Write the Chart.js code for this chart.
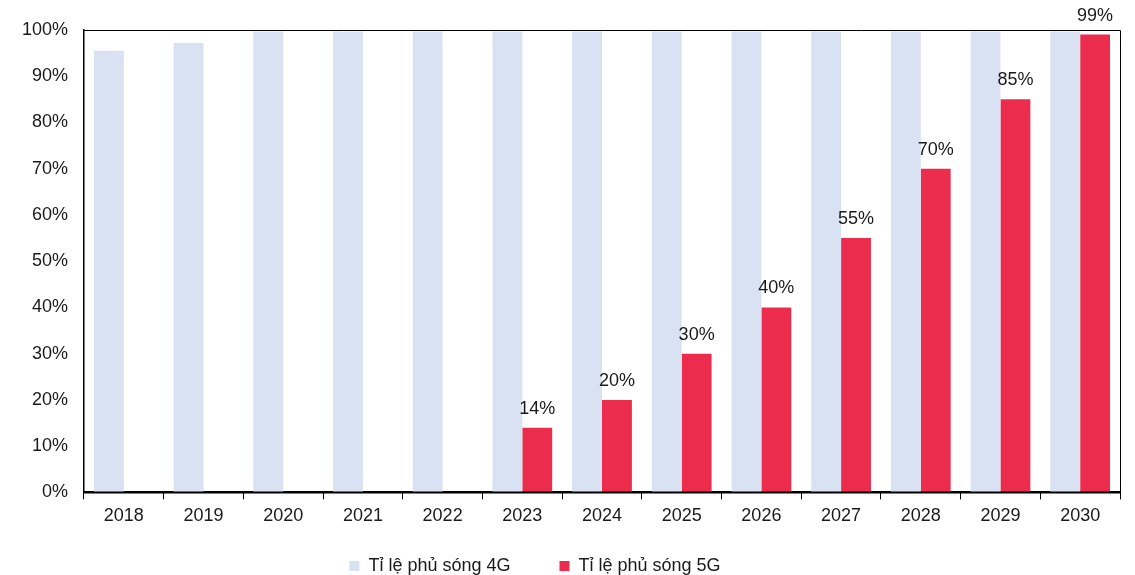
<!DOCTYPE html>
<html>
<head>
<meta charset="utf-8">
<script src="https://cdn.jsdelivr.net/npm/chart.js@4"></script>
<style>
  html, body { margin: 0; padding: 0; background: #fff; overflow: hidden; }
</style>
</head>
<body>
<canvas id="phuSongChart" width="1135" height="575"></canvas>
<script>
// Du lieu ti le phu song
const nam = ['2018', '2019', '2020', '2021', '2022', '2023', '2024', '2025', '2026', '2027', '2028', '2029', '2030'];
const phuSong4G = [95.5, 97.2, 99.7, 99.7, 99.7, 99.7, 99.7, 99.7, 99.7, 99.7, 99.7, 99.7, 99.7];
const phuSong5G = [null, null, null, null, null, 14, 20, 30, 40, 55, 70, 85, 99];
const nhanTrucY = [0, 10, 20, 30, 40, 50, 60, 70, 80, 90, 100];

Chart.defaults.font.family = '"Liberation Sans", Arial, sans-serif';
Chart.defaults.font.size = 18;
Chart.defaults.color = '#1a1a1a';

// Khung quanh vung ve + truc hoanh ve de len cot
const khungPlugin = {
    id: 'khung',
    afterDraw(chart) {
        const { ctx, chartArea: a } = chart;
        ctx.save();
        ctx.strokeStyle = '#000';
        ctx.lineWidth = 1;
        ctx.beginPath();
        ctx.moveTo(a.left, a.top + 0.5);
        ctx.lineTo(a.right + 0.5, a.top + 0.5);
        ctx.lineTo(a.right + 0.5, a.bottom);
        ctx.stroke();
        ctx.lineWidth = 2;
        ctx.beginPath();
        ctx.moveTo(a.left - 1, a.bottom);
        ctx.lineTo(a.right + 1, a.bottom);
        ctx.stroke();
        ctx.restore();
    }
};

// Nhan gia tri tren cot 5G
const nhanPlugin = {
    id: 'nhanGiaTri',
    afterDatasetsDraw(chart) {
        const { ctx } = chart;
        const meta = chart.getDatasetMeta(1);
        ctx.save();
        ctx.font = '18px "Liberation Sans", Arial, sans-serif';
        ctx.fillStyle = '#1a1a1a';
        ctx.textAlign = 'center';
        ctx.textBaseline = 'bottom';
        meta.data.forEach((bar, i) => {
            const v = phuSong5G[i];
            if (v == null) return;
            ctx.fillText(v + '%', bar.x, bar.y - 10);
        });
        ctx.restore();
    }
};

// khoang trang sau nhan chu giup can chinh chu giai
const khoangSau = ['     ', '          '];

const ctx = document.getElementById('phuSongChart').getContext('2d');
new Chart(ctx, {
    type: 'bar',
    data: {
        labels: nam,
        datasets: [{
            label: 'Tỉ lệ phủ sóng 4G',
            data: phuSong4G,
            backgroundColor: '#D9E2F3',
            borderWidth: 0
        }, {
            label: 'Tỉ lệ phủ sóng 5G',
            data: phuSong5G,
            backgroundColor: '#EC2C4C',
            borderWidth: 0
        }]
    },
    options: {
        responsive: false,
        animation: false,
        datasets: {
            bar: { categoryPercentage: 0.75, barPercentage: 1.0 }
        },
        layout: { padding: { top: 30, right: 15, left: 0, bottom: 0 } },
        plugins: {
            legend: {
                position: 'bottom',
                maxHeight: 42,
                labels: {
                    boxWidth: 10,
                    boxHeight: 10,
                    padding: 24,
                    font: { size: 18 },
                    generateLabels(chart) {
                        const items = Chart.defaults.plugins.legend.labels.generateLabels(chart);
                        items.forEach((it, i) => { it.text = it.text + khoangSau[i]; });
                        return items;
                    }
                }
            },
            tooltip: { enabled: false }
        },
        scales: {
            x: {
                grid: { offset: true, drawOnChartArea: false, drawTicks: true, tickLength: 7, color: '#000', lineWidth: 1 },
                border: { color: '#000', width: 2 },
                ticks: { padding: 6 }
            },
            y: {
                min: 0,
                max: 100,
                afterBuildTicks(scale) { scale.ticks = nhanTrucY.map(v => ({ value: v })); },
                ticks: { padding: 16, callback: v => v + '%' },
                grid: { display: false, drawTicks: false },
                border: { color: '#000', width: 1.5 },
                afterFit(scale) { scale.width = 84; }
            }
        }
    },
    plugins: [khungPlugin, nhanPlugin]
});
</script>
</body>
</html>
